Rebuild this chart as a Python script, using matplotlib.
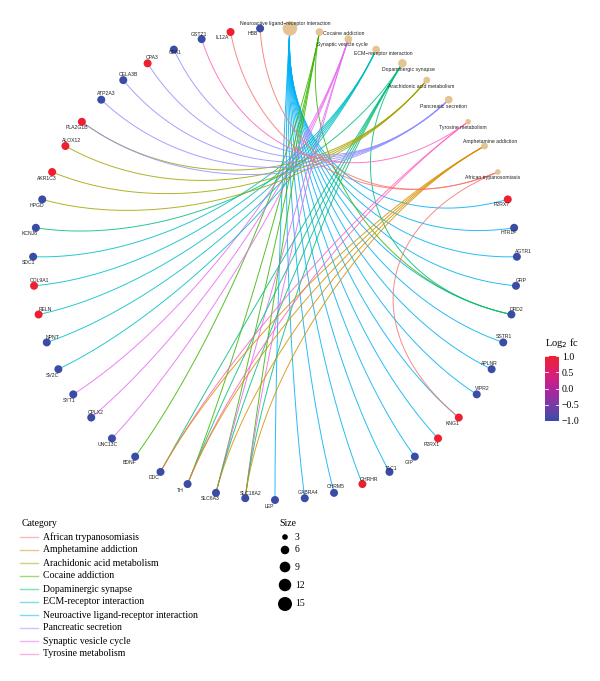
import numpy as np
import matplotlib.pyplot as plt
from matplotlib.colors import LinearSegmentedColormap, Normalize
import matplotlib as mpl

# --- data -------------------------------------------------------------
# pathway nodes, in the order they sit on the circle (clockwise from top)
pathways = ["Neuroactive ligand\u2212receptor interaction", "Cocaine addiction",
            "Synaptic vesicle cycle", "ECM\u2212receptor interaction",
            "Dopaminergic synapse", "Arachidonic acid metabolism",
            "Pancreatic secretion", "Tyrosine metabolism",
            "Amphetamine addiction", "African trypanosomiasis"]

# gene nodes, continuing clockwise after the pathways
genes = ["P2RX7", "HTR1F", "AGTR1", "GRP", "DRD2", "SSTR1", "APLNR", "VIPR2",
         "KNG1", "P2RX1", "GIP", "TAC1", "GHRHR", "CHRM5", "GABRA4", "LEP",
         "SLC18A2", "SLC6A3", "TH", "DDC", "BDNF", "UNC13C", "CPLX2", "SYT1",
         "SV2C", "NPNT", "RELN", "COL9A1", "SDC1", "KCNJ6", "HPGD", "AKR1C3",
         "ALOX12", "PLA2G1B", "ATP2A3", "CELA3B", "CPA3", "CPA1", "GSTZ1",
         "IL12A", "HBB"]
gene_fc = [1.0, -1.0, -1.0, -1.0, -1.0, -1.0, -1.0, -1.0,
           1.0, 1.0, -1.0, -1.0, 1.0, -1.0, -1.0, -1.0,
           -1.0, -1.0, -1.0, -1.0, -1.0, -1.0, -1.0, -1.0,
           -1.0, -1.0, 1.0, 1.0, -1.0, -1.0, -1.0, 1.0,
           1.0, 1.0, -1.0, -1.0, 1.0, -1.0, -1.0,
           1.0, -1.0]

neuro_genes = ["LEP", "GABRA4", "CHRM5", "GHRHR", "TAC1", "GIP", "P2RX1", "KNG1",
               "VIPR2", "APLNR", "SSTR1", "DRD2", "GRP", "AGTR1", "HTR1F", "P2RX7"]
cocaine_genes = ["BDNF", "TH", "SLC6A3", "SLC18A2", "DRD2"]
synaptic_genes = ["SYT1", "CPLX2", "UNC13C", "SLC18A2", "SLC6A3"]
ecm_genes = ["SDC1", "COL9A1", "RELN", "NPNT", "SV2C"]
dopa_genes = ["KCNJ6", "TH", "DDC", "SLC6A3", "SLC18A2", "DRD2"]
arach_genes = ["PLA2G1B", "ALOX12", "AKR1C3", "HPGD"]
pancreatic_genes = ["CPA1", "CPA3", "CELA3B", "ATP2A3", "PLA2G1B"]
tyrosine_genes = ["GSTZ1", "TH", "DDC"]
amph_genes = ["DDC", "TH", "SLC6A3", "SLC18A2"]
african_genes = ["IL12A", "HBB", "KNG1"]
members = [neuro_genes, cocaine_genes, synaptic_genes, ecm_genes, dopa_genes,
           arach_genes, pancreatic_genes, tyrosine_genes, amph_genes, african_genes]

legend_names = ["African trypanosomiasis", "Amphetamine addiction",
                "Arachidonic acid metabolism", "Cocaine addiction",
                "Dopaminergic synapse", "ECM-receptor interaction",
                "Neuroactive ligand-receptor interaction", "Pancreatic secretion",
                "Synaptic vesicle cycle", "Tyrosine metabolism"]
size_breaks = [3, 6, 9, 12, 15]
cbar_ticks = [-1.0, -0.5, 0.0, 0.5, 1.0]

# --- style ------------------------------------------------------------
hue = ["#F8766D", "#D89000", "#A3A500", "#39B600", "#00BF7D",
       "#00BFC4", "#00B0F6", "#9590FF", "#E76BF3", "#FF62BC"]
cat_color = dict(zip(legend_names, hue))
path_color = {p: cat_color[p.replace("\u2212", "-")] for p in pathways}
fc_cmap = LinearSegmentedColormap.from_list(
    "fc", ["#3A4CA6", "#7A3AA6", "#B3249C", "#DC1F6E", "#EE2030"])
fc_norm = Normalize(-1, 1)
sans = "Liberation Sans"
serif = "Liberation Serif"

cx, cy, rx, ry = 275, 264, 242, 236
pull = 0.45   # radial control points at this fraction of the radius


def node_d2(n):
    # diameter^2 in pixels, area proportional to gene count
    return 32 + (n - 3) * 13.7


nodes = pathways + genes
n = len(nodes)
theta = (np.arange(n) + 0.5) * 2 * np.pi / n
ux, uy = np.sin(theta), np.cos(theta)
pos = {name: (ux[i], uy[i]) for i, name in enumerate(nodes)}


def to_px(x, y):
    return cx + rx * np.asarray(x), cy - ry * np.asarray(y)


fig = plt.figure(figsize=(6, 6.81), dpi=100)
ax = fig.add_axes([0, 0, 1, 1])
ax.set_xlim(0, 600)
ax.set_ylim(681, 0)
ax.axis("off")

# edges: cubic bezier, tangents along the radius at both ends
t = np.linspace(0, 1, 100)[:, None]
for p, glist in zip(pathways, members):
    p0 = np.array(pos[p])
    for g in glist:
        p3 = np.array(pos[g])
        p1, p2 = p0 * pull, p3 * pull
        curve = ((1 - t) ** 3 * p0 + 3 * t * (1 - t) ** 2 * p1
                 + 3 * t ** 2 * (1 - t) * p2 + t ** 3 * p3)
        xs, ys = to_px(curve[:, 0], curve[:, 1])
        ax.plot(xs, ys, color=path_color[p], lw=0.7, alpha=0.85,
                solid_capstyle="round", zorder=1)

# pathway nodes
for p, glist in zip(pathways, members):
    x, y = to_px(*pos[p])
    d = np.sqrt(node_d2(len(glist))) * 0.72
    ax.scatter(x, y, s=d ** 2, color="#E5C494", edgecolors="none", zorder=3)

# gene nodes
gx, gy = to_px([pos[g][0] for g in genes], [pos[g][1] for g in genes])
ax.scatter(gx, gy, s=(8 * 0.72) ** 2, c=gene_fc, cmap=fc_cmap, norm=fc_norm,
           edgecolors="none", zorder=3)

# labels (offsets in pixels, repel-like placement)
gene_off = {
    "GSTZ1": (-3, -5), "IL12A": (-8, 5), "HBB": (-7, 5), "CPA1": (1, 3),
    "CPA3": (5, -6), "CELA3B": (5, -6), "ATP2A3": (5, -6), "PLA2G1B": (-5, 6),
    "ALOX12": (6, -6), "AKR1C3": (-5, 6), "HPGD": (-5, 6), "KCNJ6": (-6, 6),
    "SDC1": (-5, 6), "COL9A1": (5, -5), "RELN": (7, -5), "NPNT": (6, -5),
    "SV2C": (-6, 6), "SYT1": (-4, 6), "CPLX2": (5, -5), "UNC13C": (-4, 6),
    "BDNF": (-6, 6), "DDC": (-6, 6), "TH": (-7, 6), "SLC6A3": (-6, 6),
    "SLC18A2": (5, -5), "LEP": (-6, 6), "GABRA4": (3, -6), "CHRM5": (2, -6),
    "GHRHR": (7, -5), "TAC1": (2, -3), "GIP": (-6, 6), "P2RX1": (-6, 6),
    "KNG1": (-6, 6), "VIPR2": (6, -6), "APLNR": (-2, -6), "SSTR1": (1, -6),
    "DRD2": (5, -5), "GRP": (5, -5), "AGTR1": (7, -5), "HTR1F": (-5, 5),
    "P2RX7": (-6, 5)}
path_off = [(-5, -5, "center"), (4, 1, "left"), (-6, 5, "center"),
            (7, 4, "center"), (6, 6, "center"), (-6, 6, "center"),
            (-5, 7, "center"), (-5, 6, "center"), (6, -5, "center"),
            (-5, 5, "center")]
for g in genes:
    x, y = to_px(*pos[g])
    dx, dy = gene_off[g]
    ax.text(x + dx, y + dy, g, fontsize=3.7, family=sans, ha="center",
            va="center", color="#222222", zorder=4)
for p, (dx, dy, ha) in zip(pathways, path_off):
    x, y = to_px(*pos[p])
    ax.text(x + dx, y + dy, p, fontsize=3.7, family=sans, ha=ha,
            va="center", color="#222222", zorder=4)

# category legend
ax.text(22, 523, "Category", fontsize=7, family=serif, va="center")
for i, name in enumerate(legend_names):
    yy = 537 + 13 * i
    ax.plot([20, 38], [yy, yy], color=cat_color[name], lw=1.0, alpha=0.5)
    ax.text(43, yy, name, fontsize=7, family=serif, va="center")

# size legend
ax.text(279, 523, "Size", fontsize=7, family=serif, va="center")
size_y = [537, 550, 567, 585, 604]
for b, yy in zip(size_breaks, size_y):
    d = np.sqrt(node_d2(b)) * 0.72
    ax.scatter(285, yy, s=d ** 2, color="black", edgecolors="none")
    ax.text(295, yy, str(b), fontsize=7, family=serif, va="center")

# colour bar
cax = fig.add_axes([545 / 600, 1 - 421 / 681, 14 / 600, 65 / 681])
cb = mpl.colorbar.ColorbarBase(cax, cmap=fc_cmap, norm=fc_norm, ticks=cbar_ticks)
cb.outline.set_visible(False)
cax.tick_params(length=0, pad=2, labelsize=7)
cax.set_yticklabels(["\u22121.0", "\u22120.5", "0.0", "0.5", "1.0"], family=serif)
for v in cbar_ticks:
    cax.plot([0, 0.2], [v, v], color="white", lw=0.6)
    cax.plot([0.8, 1], [v, v], color="white", lw=0.6)
fig.text(545 / 600, 1 - 343 / 681, "Log$_2$ fc", fontsize=7.5, family=serif,
         va="center")

fig.savefig("out.png", dpi=100)
